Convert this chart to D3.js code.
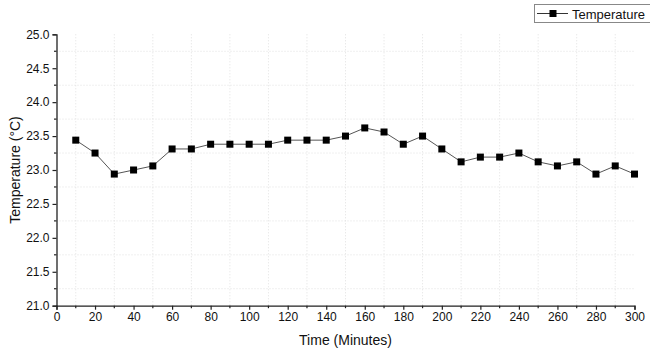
<!DOCTYPE html>
<html><head><meta charset="utf-8">
<script src="https://cdn.jsdelivr.net/npm/d3@7/dist/d3.min.js"></script>
<style>body{margin:0;background:#fff}svg{display:block}text{font-family:"Liberation Sans",Arial,sans-serif}</style>
</head><body><svg id="c" width="650" height="352"></svg>
<script>
const times = [10,20,30,40,50,60,70,80,90,100,110,120,130,140,150,160,170,180,190,200,210,220,230,240,250,260,270,280,290,300];
const temps = [23.44,23.25,22.94,23.00,23.06,23.31,23.31,23.38,23.38,23.38,23.38,23.44,23.44,23.44,23.50,23.62,23.56,23.38,23.50,23.31,23.12,23.19,23.19,23.25,23.12,23.06,23.12,22.94,23.06,22.94];
const xTicks = d3.range(0, 301, 20);
const yTicks = [21.0,21.5,22.0,22.5,23.0,23.5,24.0,24.5,25.0];
const seriesName = "Temperature";

const svg = d3.select("#c");
const L = 56.5, R = 634.5, T = 34.3, B = 305.7;
const x = d3.scaleLinear().domain([0,300]).range([L,R]);
const y = d3.scaleLinear().domain([21,25]).range([B,T]);

// grid at minor positions
const xMinor = d3.range(10, 300, 20);
const yMinor = d3.range(21.25, 25, 0.5);
const g = svg.append("g");
g.selectAll(".vg").data(xMinor).join("line")
  .attr("x1", d=>x(d)).attr("x2", d=>x(d)).attr("y1", T).attr("y2", B)
  .attr("stroke", "#e0e0e0").attr("stroke-width", 1).attr("stroke-dasharray", "1,2");
g.selectAll(".hg").data(yMinor).join("line")
  .attr("x1", L).attr("x2", R).attr("y1", d=>y(d)).attr("y2", d=>y(d))
  .attr("stroke", "#e0e0e0").attr("stroke-width", 1).attr("stroke-dasharray", "1,2");

// axes
const xAxis = d3.axisBottom(x).tickValues(xTicks).tickSize(4).tickPadding(3).tickFormat(d3.format("d"));
const xAx = svg.append("g").attr("transform", `translate(0,${B})`).call(xAxis);
const yAxis = d3.axisLeft(y).tickValues(yTicks).tickSize(4).tickPadding(3).tickFormat(d3.format(".1f"));
const yAx = svg.append("g").attr("transform", `translate(${L},0)`).call(yAxis);
[xAx, yAx].forEach(a => {
  a.select(".domain").attr("stroke", "#222").attr("stroke-width", 1.3);
  a.selectAll(".tick line").attr("stroke", "#222").attr("stroke-width", 1.2);
  a.selectAll("text").attr("font-size", 12).attr("fill", "#111").style("font-family", '"Liberation Sans",Arial,sans-serif');
});
// minor ticks
svg.append("g").selectAll("line").data(xMinor).join("line")
  .attr("x1", d=>x(d)).attr("x2", d=>x(d)).attr("y1", B).attr("y2", B+2.5)
  .attr("stroke", "#222").attr("stroke-width", 1.2);
svg.append("g").selectAll("line").data(yMinor).join("line")
  .attr("x1", L).attr("x2", L-2.5).attr("y1", d=>y(d)).attr("y2", d=>y(d))
  .attr("stroke", "#222").attr("stroke-width", 1.2);

// line + markers
const data = times.map((t,i)=>({t, v: temps[i]}));
svg.append("path").datum(data)
  .attr("d", d3.line().x(d=>x(d.t)).y(d=>y(d.v)))
  .attr("fill", "none").attr("stroke", "#555").attr("stroke-width", 1);
svg.append("g").selectAll("rect").data(data).join("rect")
  .attr("x", d=>x(d.t)-3.5).attr("y", d=>y(d.v)-3.5).attr("width", 7).attr("height", 7)
  .attr("fill", "#000");

// axis titles
svg.append("text").attr("x", (L+R)/2).attr("y", 345).attr("text-anchor", "middle")
  .attr("font-size", 14).attr("fill", "#111").text("Time (Minutes)");
svg.append("text").attr("transform", `translate(20,${(T+B)/2}) rotate(-90)`).attr("text-anchor", "middle")
  .attr("font-size", 14).attr("fill", "#111").text("Temperature (°C)");

// legend
const lg = svg.append("g");
lg.append("rect").attr("x", 534.5).attr("y", 4.5).attr("width", 130).attr("height", 18)
  .attr("fill", "#fff").attr("stroke", "#888").attr("stroke-width", 1);
lg.append("line").attr("x1", 537).attr("x2", 568).attr("y1", 13.5).attr("y2", 13.5)
  .attr("stroke", "#333").attr("stroke-width", 1);
lg.append("rect").attr("x", 549.5).attr("y", 10).attr("width", 7).attr("height", 7).attr("fill", "#000");
lg.append("text").attr("x", 572).attr("y", 18.5).attr("font-size", 13).attr("fill", "#111").text(seriesName);
</script></body></html>
